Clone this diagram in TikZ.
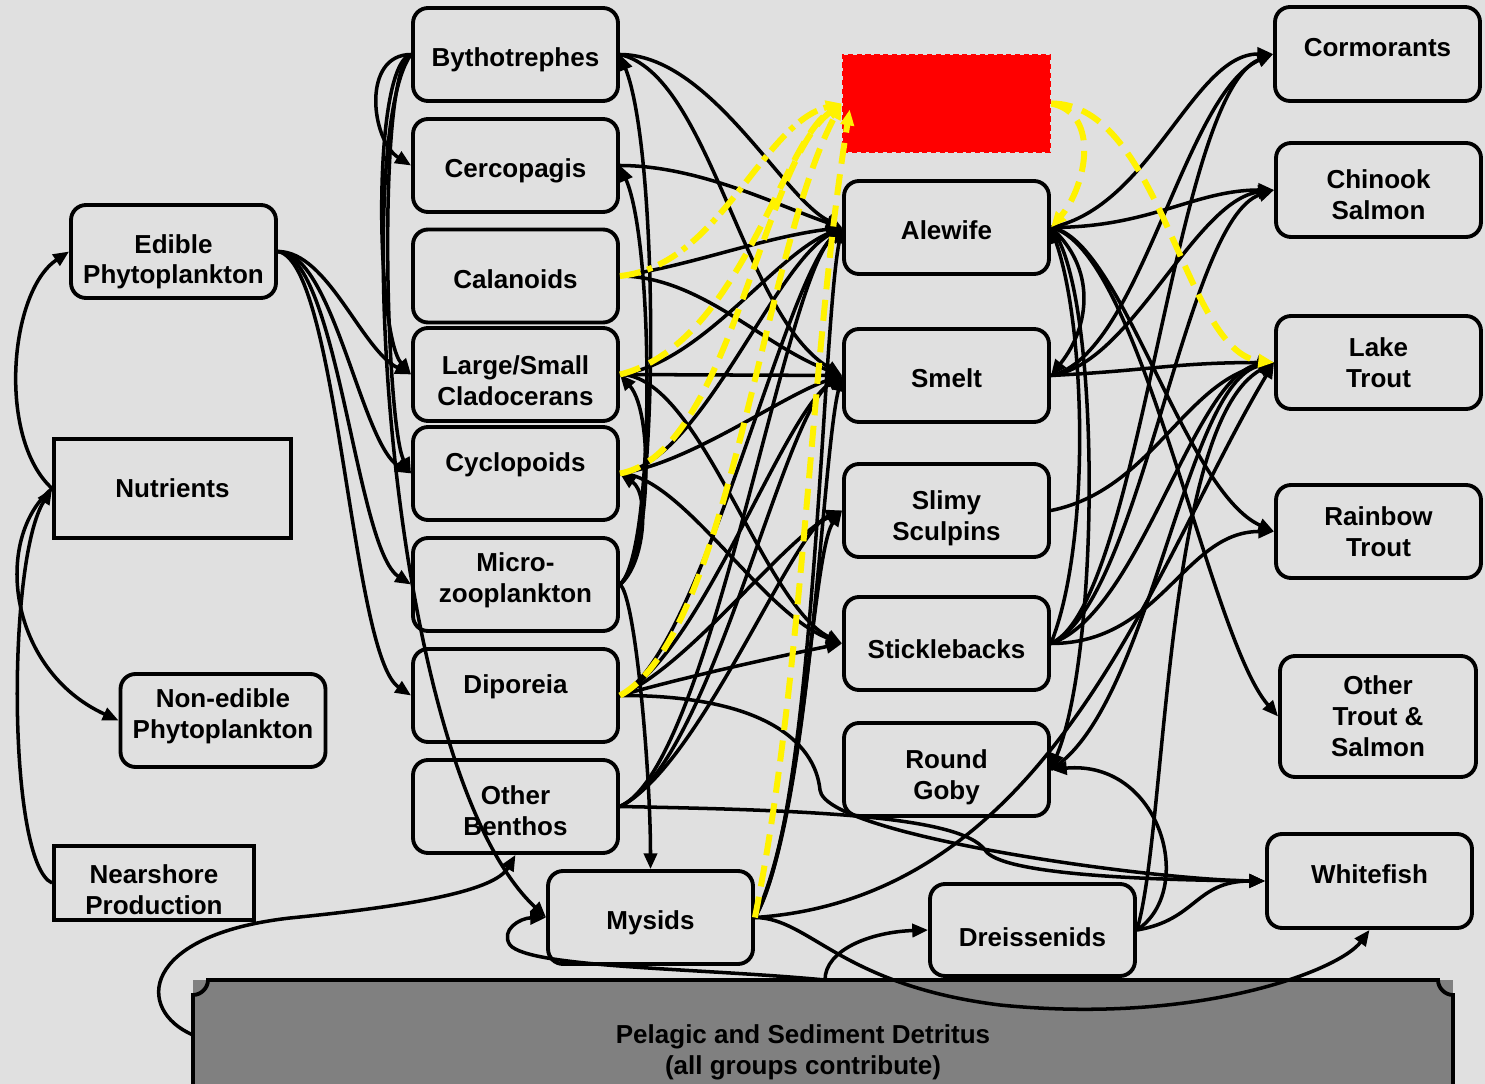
\documentclass[tikz,border=0pt]{standalone}
\usepackage{fontspec}
\setmainfont{Liberation Sans}
\usepackage{tikz}
\usetikzlibrary{arrows.meta}
\definecolor{fondo}{HTML}{E0E0E0}
\definecolor{detrito}{HTML}{808080}
\tikzset{
  every picture/.style={x=0.02cm, y=-0.02cm},
  grp/.style={draw, line width=2.2pt, rounded corners=0.3cm, fill=fondo, minimum width=4.1cm,
              minimum height=1.86cm, align=center, inner sep=2pt,
              font=\bfseries\fontsize{14.8}{17.6}\selectfont},
  src/.style={grp, sharp corners},
  hi/.style={text depth=#1},
  dn/.style={text height=#1},
  link/.style={-{Triangle[length=9pt,width=7.5pt]}, line width=2pt},
  ylink/.style={link, yellow, line width=3.4pt, dash pattern=on 12pt off 6pt},
}
\begin{document}
\begin{tikzpicture}
  \fill[fondo] (0,0) rectangle (1485,1084);
  \useasboundingbox (0,0) rectangle (1485,1084);
  % detritus pool
  \fill[detrito] (193,980) rectangle (1453,1120);
  \draw[line width=2.2pt] (193,1120) -- (193,995) .. controls (201,995) and (208,988) .. (208,980)
    -- (1438,980) .. controls (1438,988) and (1445,995) .. (1453,995) -- (1453,1120);
  \node[align=center, font=\bfseries\fontsize{14.8}{17.6}\selectfont] (det) at (803,1052)
    {Pelagic and Sediment Detritus\\(all groups contribute)};
  \coordinate (detl) at (193,1035);
  \coordinate (dett) at (825,980);
  % producers
  \node[grp, dn=40pt] (edible) at (173.5,251.5) {Edible\\Phytoplankton};
  \node[src, minimum width=4.74cm, minimum height=1.98cm] (nutr) at (172.5,488.5) {Nutrients};
  \node[grp, hi=7.6pt] (nonedible) at (223,720.5) {Non-edible\\Phytoplankton};
  \node[src, minimum width=4cm, minimum height=1.48cm, dn=36pt] (nshore) at (154,883) {Nearshore\\Production};
  % invertebrates
  \node[grp, dn=16.5pt] (byth) at (515.5,54.5) {Bythotrephes};
  \node[grp, dn=16.5pt] (cerc) at (515.5,165.5) {Cercopagis};
  \node[grp, dn=14.2pt] (calan) at (515.5,276) {Calanoids};
  \node[grp, dn=35pt] (clad) at (515.5,374.5) {Large/Small\\Cladocerans};
  \node[grp, hi=13pt] (cyclo) at (515.5,473.5) {Cyclopoids};
  \node[grp, hi=7.6pt] (micro) at (515.5,584.5) {Micro-\\zooplankton};
  \node[grp, hi=13pt] (dip) at (515.5,695.5) {Diporeia};
  \node[grp, dn=33pt] (oben) at (515.5,806.5) {Other\\Benthos};
  \node[grp, dn=16.5pt] (mys) at (650.5,917.5) {Mysids};
  \node[grp, dn=18.7pt, minimum height=1.84cm] (dreis) at (1032.5,930) {Dreissenids};
  % forage fish
  \node[draw=red, densely dashed, fill=red, line width=1.5pt, minimum width=4.14cm,
        minimum height=1.94cm] (unk) at (946.5,103.5) {};
  \node[grp, dn=14.2pt] (ale) at (946.5,227.5) {Alewife};
  \node[grp, dn=14.2pt] (smelt) at (946.5,375.5) {Smelt};
  \node[grp, dn=37pt] (slimy) at (946.5,510.5) {Slimy\\Sculpins};
  \node[grp, dn=17.6pt] (stick) at (946.5,643.5) {Sticklebacks};
  \node[grp, dn=37pt] (goby) at (946.5,769.5) {Round\\Goby};
  % top predators
  \node[grp, hi=7pt, minimum height=1.88cm] (corm) at (1377.5,54) {Cormorants};
  \node[grp, minimum height=1.88cm, dn=34pt] (chin) at (1378.5,190) {Chinook\\Salmon};
  \node[grp] (lake) at (1378.5,362.5) {Lake\\Trout};
  \node[grp] (rain) at (1378.5,531.5) {Rainbow\\Trout};
  \node[grp, minimum width=3.92cm, minimum height=2.42cm] (otrout) at (1378,716.5) {Other\\Trout \&\\Salmon};
  \node[grp, hi=8pt, minimum height=1.88cm] (white) at (1369.5,881) {Whitefish};

  % phytoplankton and nutrients
  \draw[link] (nutr.west) .. controls +(-55,-50) and +(-60,40) .. (edible.west);
  \draw[link] (nutr.west) .. controls +(-60,50) and +(-110,-50) .. (nonedible.west);
  \draw[link] (nshore.west) .. controls +(-45,-20) and +(-45,70) .. (nutr.west);
  \draw[link] (detl) .. controls (135,1010) and (140,935) .. (290,918) .. controls (420,905) and (495,890) .. (oben.south);
  % grazing
  \draw[link] (edible.east) .. controls +(50,0) and +(-50,-25) .. (clad.west);
  \draw[link] (edible.east) .. controls +(55,0) and +(-50,-30) .. (cyclo.west);
  \draw[link] (edible.east) .. controls +(60,5) and +(-55,-35) .. (micro.west);
  \draw[link] (edible.east) .. controls +(60,10) and +(-60,-40) .. (dip.west);
  \draw[link] (byth.west) .. controls +(-50,0) and +(-40,-25) .. (cerc.west);
  \draw[link] (byth.west) .. controls +(-40,10) and +(-35,-40) .. (clad.west);
  \draw[link] (byth.west) .. controls +(-35,15) and +(-25,-45) .. (cyclo.west);
  \draw[link] (byth.west) .. controls +(-60,80) and +(-160,-150) .. (mys.west);
  \draw[link] (micro.east) .. controls +(40,-30) and +(40,100) .. (byth.east);
  \draw[link] (micro.east) .. controls +(35,-30) and +(35,80) .. (cerc.east);
  \draw[link] (micro.east) .. controls +(30,-30) and +(35,40) .. (clad.east);
  \draw[link] (micro.east) .. controls +(25,-20) and +(30,20) .. (cyclo.east);
  \draw[link] (micro.east) .. controls +(15,10) and +(0,-100) .. (mys.north);
  % invertebrates to forage fish
  \draw[link] (byth.east) .. controls +(90,0) and +(-60,-30) .. (ale.west);
  \draw[link] (byth.east) .. controls +(90,20) and +(-100,-60) .. (smelt.west);
  \draw[link] (cerc.east) .. controls +(80,0) and +(-60,-20) .. (ale.west);
  \draw[link] (calan.east) .. controls +(70,-10) and +(-80,10) .. (ale.west);
  \draw[link] (calan.east) .. controls +(80,0) and +(-80,-30) .. (smelt.west);
  \draw[link] (clad.east) -- (smelt.west);
  \draw[link] (clad.east) .. controls +(80,-10) and +(-70,30) .. (ale.west);
  \draw[link] (clad.east) .. controls +(80,0) and +(-80,-40) .. (stick.west);
  \draw[link] (cyclo.east) .. controls +(80,-10) and +(-70,40) .. (ale.west);
  \draw[link] (cyclo.east) .. controls +(70,-10) and +(-60,20) .. (smelt.west);
  \draw[link] (cyclo.east) .. controls +(60,0) and +(-80,-30) .. (stick.west);
  \draw[link] (dip.east) .. controls +(80,-40) and +(-60,60) .. (ale.west);
  \draw[link] (dip.east) .. controls +(80,-40) and +(-60,40) .. (smelt.west);
  \draw[link] (dip.east) .. controls +(70,-30) and +(-60,30) .. (slimy.west);
  \draw[link] (dip.east) .. controls +(70,-20) and +(-50,10) .. (stick.west);
  \draw[link] (dip.east) .. controls (760,695) and (815,740) .. (820,790) .. controls (825,835) and (1150,880) .. (white.west);
  \draw[link] (oben.east) .. controls +(90,-40) and +(-60,60) .. (ale.west);
  \draw[link] (oben.east) .. controls +(90,-40) and +(-60,40) .. (smelt.west);
  \draw[link] (oben.east) .. controls +(80,-40) and +(-50,20) .. (slimy.west);
  \draw[link] (oben.east) .. controls (800,810) and (960,815) .. (985,850) .. controls (1000,875) and (1150,880) .. (white.west);
  \draw[link] (mys.east) .. controls +(60,-100) and +(-20,100) .. (ale.west);
  \draw[link] (mys.east) .. controls +(55,-100) and +(-20,80) .. (smelt.west);
  \draw[link] (mys.east) .. controls +(50,-100) and +(-30,40) .. (slimy.west);
  \draw[link] (mys.east) .. controls +(300,-20) and +(-120,200) .. (lake.west);
  \draw[link] (mys.east) .. controls (810,918) and (840,985) .. (1000,1005) .. controls (1200,1025) and (1340,970) .. (white.south);
  \draw[link] (dett) .. controls (700,968) and (530,968) .. (510,945) .. controls (500,930) and (520,918) .. (mys.west);
  \draw[link] (dett) .. controls (825,950) and (870,932) .. (dreis.west);
  % fish to predators
  \draw[link] (ale.east) .. controls +(100,-20) and +(-80,0) .. (corm.west);
  \draw[link] (ale.east) .. controls +(100,0) and +(-80,0) .. (chin.west);
  \draw[link] (ale.east) .. controls +(70,10) and +(-90,-40) .. (rain.west);
  \draw[link] (ale.east) .. controls +(90,20) and +(-70,-80) .. (otrout.west);
  \draw[link] (ale.east) .. controls +(45,40) and +(40,-50) .. (smelt.east);
  \draw[link] (ale.east) .. controls +(50,60) and +(50,-120) .. (goby.east);
  \draw[link] (smelt.east) .. controls +(100,-5) and +(-100,0) .. (lake.west);
  \draw[link] (smelt.east) .. controls +(90,-20) and +(-90,40) .. (corm.west);
  \draw[link] (smelt.east) .. controls +(80,-10) and +(-80,10) .. (chin.west);
  \draw[link] (slimy.east) .. controls +(100,-20) and +(-90,20) .. (lake.west);
  \draw[link] (stick.east) .. controls +(90,-40) and +(-100,40) .. (corm.west);
  \draw[link] (stick.east) .. controls +(90,-40) and +(-90,30) .. (chin.west);
  \draw[link] (stick.east) .. controls +(90,-30) and +(-80,10) .. (lake.west);
  \draw[link] (stick.east) .. controls +(110,0) and +(-90,0) .. (rain.west);
  \draw[link] (stick.east) .. controls +(40,-100) and +(35,100) .. (ale.east);
  \draw[link] (goby.east) .. controls +(100,-60) and +(-90,20) .. (lake.west);
  \draw[link] (dreis.east) .. controls +(60,-10) and +(-70,0) .. (white.west);
  \draw[link] (dreis.east) .. controls +(60,-40) and +(110,-10) .. (goby.east);
  \draw[link] (dreis.east) .. controls +(30,-100) and +(-110,60) .. (lake.west);
  % unknown group (yellow)
  \draw[ylink, dash pattern=on 12pt off 4pt on 3pt off 4pt] (calan.east) .. controls +(100,-10) and +(-80,20) .. (unk.west);
  \draw[ylink] (clad.east) .. controls +(120,-30) and +(-60,40) .. (unk.west);
  \draw[ylink] (cyclo.east) .. controls +(110,-20) and +(-80,60) .. (unk.west);
  \draw[ylink] (dip.east) .. controls +(110,-60) and +(-80,150) .. (unk.west);
  \draw[ylink] (mys.east) .. controls +(50,-250) and +(-40,250) .. ([shift={(8,6)}]unk.west);
  \draw[ylink] (unk.east) .. controls +(50,10) and +(35,-40) .. (ale.east);
  \draw[ylink] (unk.east) .. controls +(110,0) and +(-90,-10) .. (lake.west);
\end{tikzpicture}
\end{document}
